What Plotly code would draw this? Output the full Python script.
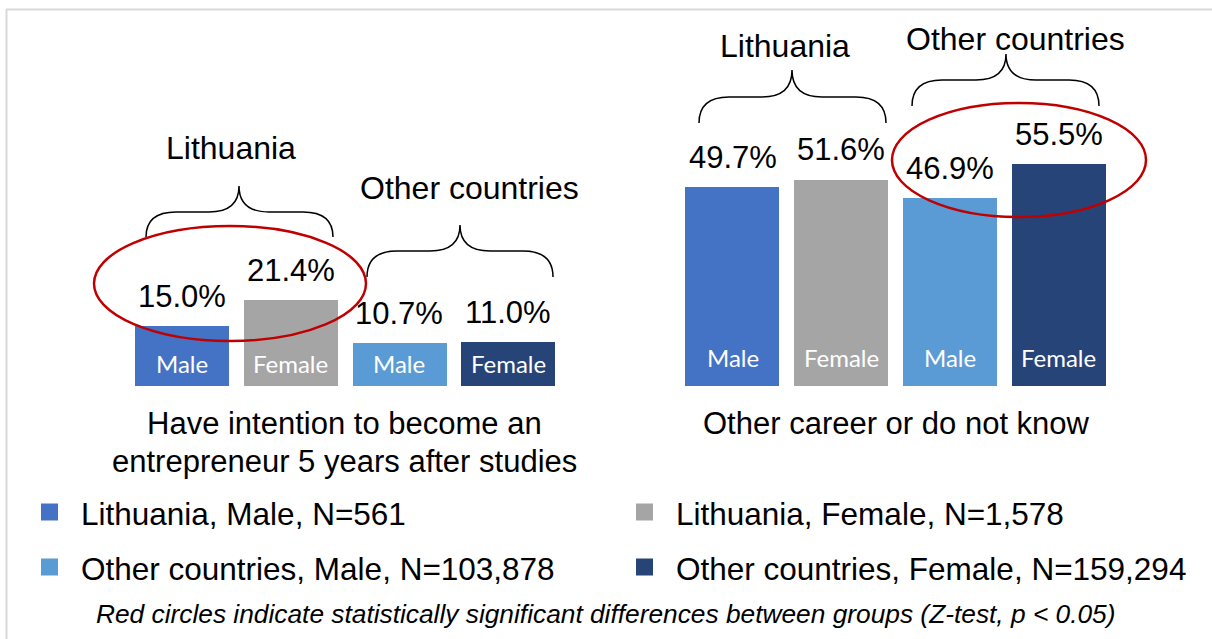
import plotly.graph_objects as go

# ---------------- data ----------------
categories = ["Lithuania, Male", "Lithuania, Female", "Other countries, Male", "Other countries, Female"]
gender_labels = ["Male", "Female", "Male", "Female"]
entrepreneur_pct = [15.0, 21.4, 10.7, 11.0]
other_career_pct = [49.7, 51.6, 46.9, 55.5]
legend_labels = ["Lithuania, Male, N=561", "Lithuania, Female, N=1,578",
                 "Other countries, Male, N=103,878", "Other countries, Female, N=159,294"]
panel_titles = ["Have intention to become an", "entrepreneur 5 years after studies",
                "Other career or do not know"]
group_names = ["Lithuania", "Other countries"]
footnote = "Red circles indicate statistically significant differences between groups (Z-test, p < 0.05)"

colors = ["#4472C4", "#A5A5A5", "#5B9BD5", "#264478"]

W, H = 1212, 639
def X(px): return px / W
def Y(py): return 1 - py / H

FONT = "Arial, Liberation Sans, sans-serif"
INNER_FONT = "Lato, Open Sans, sans-serif"

fig = go.Figure()
fig.add_trace(go.Bar(x=categories, y=entrepreneur_pct, marker=dict(color=colors, line=dict(width=0)),
                     width=0.865, xaxis="x", yaxis="y", showlegend=False, hoverinfo="x+y"))
fig.add_trace(go.Bar(x=categories, y=other_career_pct, marker=dict(color=colors, line=dict(width=0)),
                     width=0.865, xaxis="x2", yaxis="y2", showlegend=False, hoverinfo="x+y"))

ann = []
# value labels above bars and gender labels inside bars
for xa, ya, vals, inner_shift in (("x", "y", entrepreneur_pct, 23), ("x2", "y2", other_career_pct, 29)):
    for c, v, g in zip(categories, vals, gender_labels):
        ann.append(dict(x=c, y=v, xref=xa, yref=ya, text=f"{v:.1f}%", showarrow=False,
                        yanchor="middle", yshift=30, font=dict(family=FONT, size=31, color="black")))
        ann.append(dict(x=c, y=0, xref=xa, yref=ya, text=g, showarrow=False,
                        yanchor="middle", yshift=inner_shift, font=dict(family=INNER_FONT, size=24, color="white")))

# group labels (pixel positions)
for txt, cx, cy in ((group_names[0], 231, 148), (group_names[1], 470, 188),
                    (group_names[0], 785, 46), (group_names[1], 1015, 39)):
    ann.append(dict(x=X(cx), y=Y(cy), xref="paper", yref="paper", text=txt, showarrow=False,
                    xanchor="center", yanchor="middle", font=dict(family=FONT, size=32, color="black")))

# panel titles
for txt, cx, cy in ((panel_titles[0], 345, 423), (panel_titles[1], 345, 461), (panel_titles[2], 896, 423)):
    ann.append(dict(x=X(cx), y=Y(cy), xref="paper", yref="paper", text=txt, showarrow=False,
                    xanchor="center", yanchor="middle", font=dict(family=FONT, size=31, color="black")))

# custom legend
shapes = []
leg_pos = [(41, 512), (636, 512), (41, 567), (636, 567)]
for lab, col, (sx, sy) in zip(legend_labels, colors, leg_pos):
    shapes.append(dict(type="rect", xref="paper", yref="paper", x0=X(sx), x1=X(sx + 17),
                       y0=Y(sy + 8.5), y1=Y(sy - 8.5), fillcolor=col, line=dict(width=0)))
    ann.append(dict(x=X(sx + 38), y=Y(sy + 2), xref="paper", yref="paper", text=lab, showarrow=False,
                    xanchor="left", yanchor="middle", font=dict(family=FONT, size=31.5, color="black")))

ann.append(dict(x=X(605), y=Y(614), xref="paper", yref="paper", text=f"<i>{footnote}</i>", showarrow=False,
                xanchor="center", yanchor="middle", font=dict(family=FONT, size=26.3, color="black")))

# curly braces
def brace(x0, x1, xm, yb, yt, ylev, r=30):
    pts = (f"M {X(x0)},{Y(yb)} Q {X(x0)},{Y(ylev)} {X(x0 + r)},{Y(ylev)} "
           f"L {X(xm - r)},{Y(ylev)} Q {X(xm)},{Y(ylev)} {X(xm)},{Y(yt)} "
           f"Q {X(xm)},{Y(ylev)} {X(xm + r)},{Y(ylev)} L {X(x1 - r)},{Y(ylev)} "
           f"Q {X(x1)},{Y(ylev)} {X(x1)},{Y(yb)}")
    return dict(type="path", xref="paper", yref="paper", path=pts, line=dict(color="black", width=1.5))

shapes += [brace(146, 333, 239, 237, 186, 212),
           brace(367, 553, 460, 277, 225, 251),
           brace(699, 886, 792, 123, 70, 97),
           brace(912, 1099, 1006, 106, 54, 80)]

# red ellipses
for x0, x1, y0, y1 in ((94, 366, 226, 341), (892, 1146, 103, 217)):
    shapes.append(dict(type="circle", xref="paper", yref="paper", x0=X(x0), x1=X(x1), y0=Y(y1), y1=Y(y0),
                       line=dict(color="#C00000", width=2.5)))

# frame lines
shapes.append(dict(type="line", xref="paper", yref="paper", x0=X(6), x1=1, y0=Y(9.5), y1=Y(9.5),
                   line=dict(color="#D9D9D9", width=2)))
shapes.append(dict(type="line", xref="paper", yref="paper", x0=X(6.5), x1=X(6.5), y0=Y(9), y1=0,
                   line=dict(color="#D9D9D9", width=2)))

ydom = [Y(386), 1.0]
yrange = [0, 386 / 4.0]
fig.update_layout(
    width=W, height=H, margin=dict(l=0, r=0, t=0, b=0),
    paper_bgcolor="white", plot_bgcolor="rgba(0,0,0,0)",
    xaxis=dict(domain=[0.10532, 0.46407], range=[-0.5, 3.5], visible=False, fixedrange=True),
    xaxis2=dict(domain=[0.55949, 0.91856], range=[-0.5, 3.5], visible=False, fixedrange=True),
    yaxis=dict(domain=ydom, range=yrange, visible=False, anchor="x", fixedrange=True),
    yaxis2=dict(domain=ydom, range=yrange, visible=False, anchor="x2", fixedrange=True),
    annotations=ann, shapes=shapes, showlegend=False, bargap=0,
)
fig.write_html("out.html", config={"displayModeBar": False},
               post_script="document.body.style.margin='0';document.body.style.overflow='hidden';")
